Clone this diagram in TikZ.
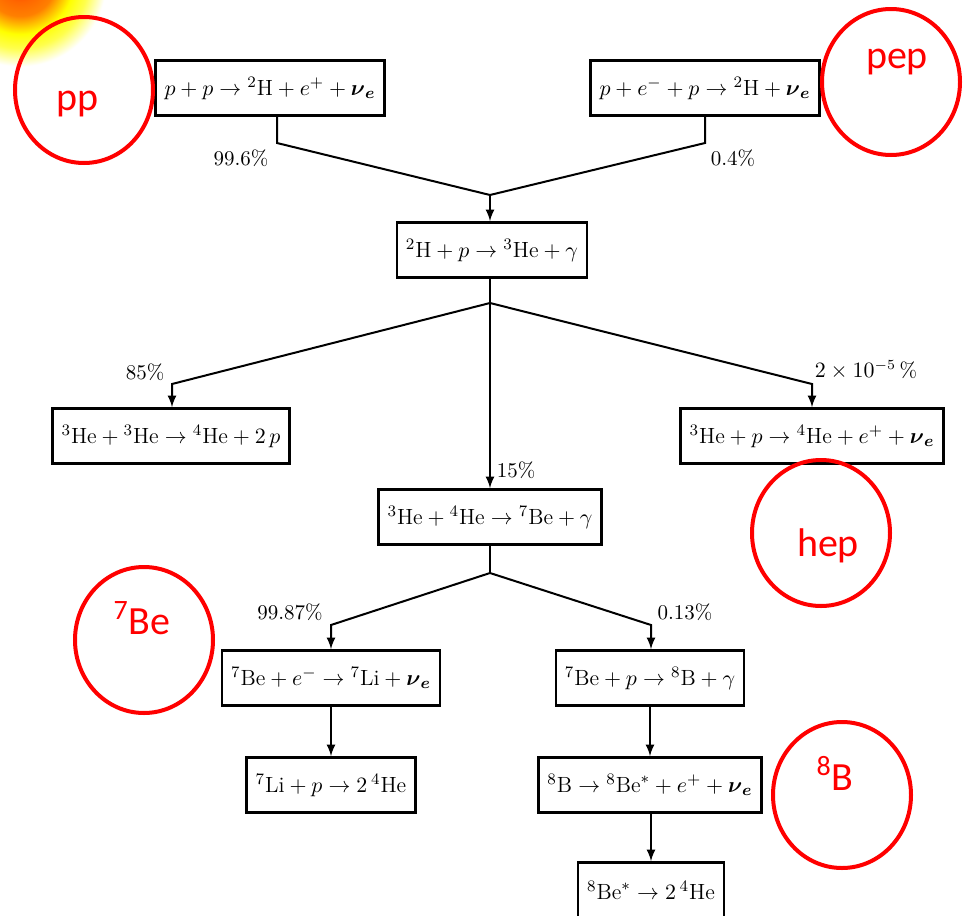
\documentclass[tikz,border=0pt]{standalone}
\usepackage{fontspec}
\usepackage{amsmath}
\usetikzlibrary{shapes.geometric}
\newfontfamily\tagfont{Carlito}
\newcommand{\nue}{\boldsymbol{\nu}_{\boldsymbol{e}}}
\pgfdeclareradialshading{sunglow}{\pgfpoint{0bp}{0bp}}{color(0bp)=(red!70!orange); color(6bp)=(orange!80!red); color(10bp)=(orange); color(15bp)=(yellow); color(19bp)=(yellow!70); color(24bp)=(white); color(50bp)=(white)}
\begin{document}
\begin{tikzpicture}[x=0.5pt, y=-0.5pt, line width=1pt, ->, >=latex,
    main node/.style={draw, line width=1.3pt, minimum height=27.5pt, inner xsep=4.5pt, font=\fontsize{11}{13}\selectfont},
    pct/.style={font=\fontsize{10.5}{12}\selectfont, inner sep=1pt},
    ring/.style={draw=red, line width=2pt, ellipse, minimum width=69pt, minimum height=73pt},
    tag/.style={text=red, font=\tagfont\fontsize{20}{22}\selectfont}]
    \useasboundingbox (0,0) rectangle (965,916);
    \shade[shading=sunglow] (20,-20) circle (90);
    % reactions
    \node[main node] (1) at (270,88) {$p+p\rightarrow{}^2\mathrm{H}+e^{+}+\nue$};
    \node[main node] (2) at (705,88) {$p+e^{-}+p\rightarrow{}^2\mathrm{H}+\nue$};
    \node[main node] (3) at (492,250) {${}^2\mathrm{H}+p\rightarrow{}^3\mathrm{He}+\gamma$};
    \node[main node] (4) at (171,436) {${}^3\mathrm{He}+{}^3\mathrm{He}\rightarrow{}^4\mathrm{He}+2\,p$};
    \node[main node] (5) at (812,436) {${}^3\mathrm{He}+p\rightarrow{}^4\mathrm{He}+e^{+}+\nue$};
    \node[main node] (6) at (490,517) {${}^3\mathrm{He}+{}^4\mathrm{He}\rightarrow{}^7\mathrm{Be}+\gamma$};
    \node[main node] (7) at (331,678) {${}^7\mathrm{Be}+e^{-}\rightarrow{}^7\mathrm{Li}+\nue$};
    \node[main node] (8) at (650,678) {${}^7\mathrm{Be}+p\rightarrow{}^8\mathrm{B}+\gamma$};
    \node[main node] (9) at (331,785) {${}^7\mathrm{Li}+p\rightarrow2\,{}^4\mathrm{He}$};
    \node[main node] (10) at (650,785) {${}^8\mathrm{B}\rightarrow{}^8\mathrm{Be}^{*}+e^{+}+\nue$};
    \node[main node] (11) at (651,890) {${}^8\mathrm{Be}^{*}\rightarrow2\,{}^4\mathrm{He}$};
    % branch points
    \coordinate (a1) at (277,143);
    \coordinate (a2) at (705,143);
    \coordinate (j1) at (490,195);
    \coordinate (j2) at (490,303);
    \coordinate (b1) at (172,384);
    \coordinate (b2) at (812,384);
    \coordinate (j3) at (490,573);
    \coordinate (c1) at (331,625);
    \coordinate (c2) at (651,625);
    % connectors
    \draw[-] (a1 |- 1.south) -- (a1) -- (j1);
    \draw[-] (2.south) -- (a2) -- (j1);
    \draw (j1) -- (3.north -| j1);
    \draw[-] (3.south -| j2) -- (j2);
    \draw (j2) -- (b1) -- (4.north -| b1);
    \draw (j2) -- (b2) -- (5.north -| b2);
    \draw (j2) -- (6.north -| j2);
    \draw[-] (6.south -| j3) -- (j3);
    \draw (j3) -- (c1) -- (7.north -| c1);
    \draw (j3) -- (c2) -- (8.north -| c2);
    \draw (7) -- (9);
    \draw (8) -- (10);
    \draw (10.south -| 11.north) -- (11);
    % branching ratios
    \node[pct] (p1) at (241,158) {99.6\%};
    \node[pct] (p2) at (733,158) {0.4\%};
    \node[pct] (p3) at (145,372) {85\%};
    \node[pct] (p4) at (866,370) {$2\times10^{-5}\,$\%};
    \node[pct] (p5) at (516,470) {15\%};
    \node[pct] (p6) at (290,612) {99.87\%};
    \node[pct] (p7) at (685,612) {0.13\%};
    % neutrino sources
    \node[ring] (r1) at (84,90) {};
    \node[ring] (r2) at (891,82) {};
    \node[ring] (r3) at (821,533) {};
    \node[ring] (r4) at (144,640) {};
    \node[ring] (r5) at (842,795) {};
    \node[tag] (t1) at (78,104) {pp};
    \node[tag] (t2) at (897,62) {pep};
    \node[tag] (t3) at (828,546) {hep};
    \node[tag] (t4) at (142,618) {\textsuperscript{7}Be};
    \node[tag] (t5) at (835,773) {\textsuperscript{8}B};
\end{tikzpicture}
\end{document}
